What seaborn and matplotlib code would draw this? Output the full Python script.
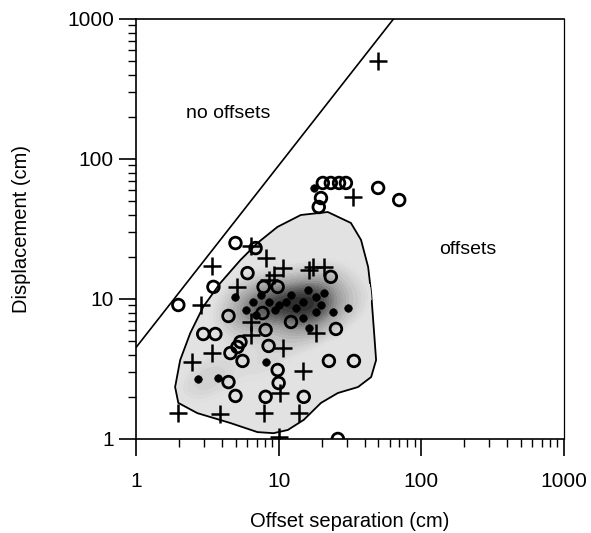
import numpy as np
import pandas as pd
import matplotlib
matplotlib.use("Agg")
import matplotlib.pyplot as plt
from matplotlib.patches import Polygon
from matplotlib.ticker import LogLocator, NullFormatter, FixedFormatter, FixedLocator
import seaborn as sns

sns.set_style("ticks", {"axes.edgecolor": "black", "text.color": "black",
                        "axes.labelcolor": "black", "xtick.color": "black",
                        "ytick.color": "black"})
plt.rcParams['font.family'] = ['Liberation Sans', 'DejaVu Sans']

# open circles
circ_x = [1.98, 3.49, 4.98, 6.89, 6.05, 4.45, 2.96, 3.60, 8.10, 4.59, 5.14, 5.58, 8.50, 9.84, 10.0,
          4.45, 4.98, 8.10, 15.0, 22.5, 33.7, 25.2, 23.2, 7.84, 9.84, 12.2, 7.71, 19.8, 19.1,
          20.4, 23.2, 26.5, 29.6, 49.8, 70.0, 26.0, 5.40]
circ_y = [9.06, 12.2, 25.1, 23.1, 15.3, 7.56, 5.62, 5.62, 6.01, 4.11, 4.54, 3.61, 4.62, 3.11, 2.51,
          2.55, 2.03, 2.0, 2.0, 3.61, 3.61, 6.11, 14.4, 12.2, 12.2, 6.85, 7.94, 52.6, 45.4,
          67.4, 67.4, 67.4, 67.4, 62.1, 50.9, 1.0, 4.93]

# crosses
plus_x = [3.43, 2.87, 2.48, 1.98, 3.90, 7.84, 13.8, 10.3, 14.8, 10.7, 3.43, 5.14, 8.10, 10.8,
          17.3, 20.7, 9.22, 18.2, 6.35, 33.2, 49.8, 8.50, 6.35, 6.35, 10.0, 16.3]
plus_y = [17.2, 9.06, 3.55, 1.53, 1.51, 1.53, 1.53, 2.13, 3.06, 4.47, 4.11, 12.2, 19.6, 16.6,
          16.9, 16.9, 14.8, 5.72, 23.9, 53.5, 500, 13.7, 6.85, 5.53, 1.03, 16.1]

# filled dots
dot_x = [2.73, 3.78, 8.10, 30.6, 24.0, 17.6, 4.98, 6.56, 8.50, 11.2, 14.8, 18.2, 18.2, 5.86,
         16.3, 14.8, 20.7, 7.5, 9.5, 12.2, 6.9, 13.2, 19.8, 10.0, 16.0]
dot_y = [2.68, 2.73, 3.55, 8.62, 8.07, 62.1, 10.3, 9.5, 9.5, 9.5, 9.5, 10.3, 8.07, 8.34,
         6.21, 7.32, 11.0, 10.7, 8.3, 10.7, 7.7, 8.6, 9.0, 9.0, 11.5]

# outline of the shaded field
env_x = [22.1, 32.1, 37.8, 42.4, 44.5, 46.7, 48.2, 44.5, 36.0, 26.0, 19.8, 15.0, 11.6, 9.2,
         7.1, 4.59, 2.69, 1.98, 1.88, 2.04, 2.40, 2.96, 3.90, 5.40, 7.1, 9.8, 14.3]
env_y = [41.8, 34.9, 26.4, 16.9, 11.0, 5.7, 3.66, 2.77, 2.35, 2.13, 1.81, 1.37, 1.16, 1.10,
         1.12, 1.30, 1.53, 1.81, 2.35, 3.66, 5.7, 8.8, 13.0, 19.0, 25.1, 32.7, 39.8]

# dividing line
line_x = [1, 63.8]
line_y = [4.5, 1000]

ticks = [1, 10, 100, 1000]
tick_labels = ["1", "10", "100", "1000"]

fig = plt.figure(figsize=(5.91, 5.33), dpi=100)
ax = fig.add_axes([0.2301, 0.1764, 0.7242, 0.788])
ax.set_xscale("log")
ax.set_yscale("log")

# shaded field
field_grey = "#e2e2e2"
env = Polygon(np.column_stack([env_x, env_y]), closed=True, facecolor=field_grey,
              edgecolor="black", linewidth=1.3, zorder=1)
ax.add_patch(env)

# darker core around the filled dots
dense = pd.DataFrame({"sep": dot_x, "disp": dot_y})
core_cmap = sns.blend_palette([field_grey, "#9a9a9a", "#2a2a2a"], as_cmap=True)
n_before = len(ax.collections)
sns.kdeplot(data=dense, x="sep", y="disp", fill=True, cmap=core_cmap, levels=20, thresh=0.1,
            bw_adjust=0.9, ax=ax, zorder=2)
for coll in ax.collections[n_before:]:
    coll.set_clip_path(env)
    coll.set_linewidth(0)

sns.lineplot(x=line_x, y=line_y, color="black", linewidth=1.2, ax=ax)

sns.scatterplot(x=circ_x, y=circ_y, marker="o", s=70, facecolor="none", edgecolor="black",
                linewidth=2.0, ax=ax, zorder=4)
sns.scatterplot(x=plus_x, y=plus_y, marker="+", s=160, color="black", linewidth=1.8,
                ax=ax, zorder=4)
sns.scatterplot(x=dot_x, y=dot_y, marker="o", s=30, color="black", edgecolor="black",
                ax=ax, zorder=4)

ax.text(4.45, 213, "no offsets", ha="center", va="center", fontsize=14)
ax.text(211, 22.4, "offsets", ha="center", va="center", fontsize=14)

ax.set_xlim(1, 1000)
ax.set_ylim(1, 1000)
ax.xaxis.set_major_locator(FixedLocator(ticks))
ax.xaxis.set_major_formatter(FixedFormatter(tick_labels))
ax.yaxis.set_major_locator(FixedLocator(ticks))
ax.yaxis.set_major_formatter(FixedFormatter(tick_labels))
ax.xaxis.set_minor_locator(LogLocator(base=10, subs=np.arange(2, 10)))
ax.yaxis.set_minor_locator(LogLocator(base=10, subs=np.arange(2, 10)))
ax.xaxis.set_minor_formatter(NullFormatter())
ax.yaxis.set_minor_formatter(NullFormatter())
ax.tick_params(axis="both", which="major", length=12, width=1.2, labelsize=15, direction="out")
ax.tick_params(axis="both", which="minor", length=6, width=1.0, direction="out")
ax.tick_params(axis="x", which="major", pad=12)
ax.tick_params(axis="y", which="major", pad=4)

for sp in ax.spines.values():
    sp.set_linewidth(1.2)
ax.spines["right"].set_linewidth(0.9)

ax.set_xlabel("Offset separation (cm)", fontsize=14.5)
ax.set_ylabel("Displacement (cm)", fontsize=14.5)
ax.xaxis.set_label_coords(0.5, -0.175)
ax.yaxis.set_label_coords(-0.245, 0.5)

fig.savefig("out.png", dpi=100)
